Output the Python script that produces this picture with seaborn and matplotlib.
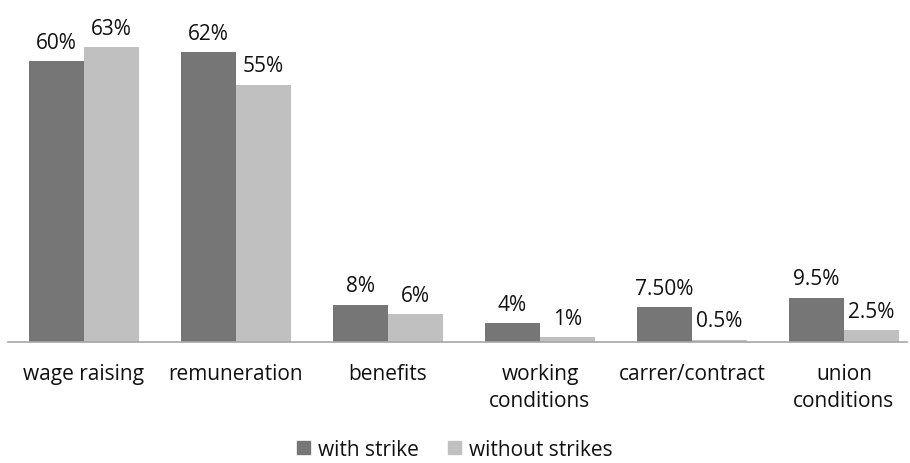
import matplotlib
matplotlib.use("Agg")
import matplotlib.pyplot as plt
import pandas as pd
import seaborn as sns

categories = ["wage raising", "remuneration", "benefits", "working\nconditions",
              "carrer/contract", "union\nconditions"]
with_strike = [60, 62, 8, 4, 7.5, 9.5]
without_strikes = [63, 55, 6, 1, 0.5, 2.5]
with_labels = ["60%", "62%", "8%", "4%", "7.50%", "9.5%"]
without_labels = ["63%", "55%", "6%", "1%", "0.5%", "2.5%"]
series_names = ["with strike", "without strikes"]

df = pd.DataFrame({
    "category": categories * 2,
    "value": with_strike + without_strikes,
    "series": [series_names[0]] * len(categories) + [series_names[1]] * len(categories),
})

sns.set_style("white")
plt.rcParams["font.family"] = ["Open Sans", "DejaVu Sans"]

fig = plt.figure(figsize=(9.10, 4.64), dpi=100)
ax = fig.add_axes([8 / 910, 121 / 464, 899 / 910, 327.6 / 464])

palette = {series_names[0]: "#767676", series_names[1]: "#c0c0c0"}
sns.barplot(data=df, x="category", y="value", hue="series", palette=palette,
            width=0.724, gap=0, saturation=1, linewidth=0, ax=ax, legend=False)

for container, labels in zip(ax.containers, [with_labels, without_labels]):
    ax.bar_label(container, labels=labels, padding=6, fontsize=15, color="#111111")

ax.set_xlim(-0.5, 5.415)
ax.set_ylim(0, 70)
ax.set_xlabel("")
ax.set_ylabel("")
ax.set_yticks([])
ax.tick_params(axis="x", length=0, pad=15, labelsize=15, colors="#111111")
for lbl in ax.get_xticklabels():
    lbl.set_verticalalignment("top")
    lbl.set_linespacing(1.4)
for side in ["left", "right", "top"]:
    ax.spines[side].set_visible(False)
ax.spines["bottom"].set_color("#a6a6a6")
ax.spines["bottom"].set_linewidth(1.2)

handles = [plt.Rectangle((0, 0), 1, 1, color=palette[s]) for s in series_names]
fig.legend(handles, series_names, loc="lower center", bbox_to_anchor=(0.5, -0.034),
           ncol=2, frameon=False, fontsize=15, handlelength=0.6, handleheight=0.6,
           handletextpad=0.4, columnspacing=1.4, labelcolor="#111111")

fig.savefig("out.png", dpi=100)
